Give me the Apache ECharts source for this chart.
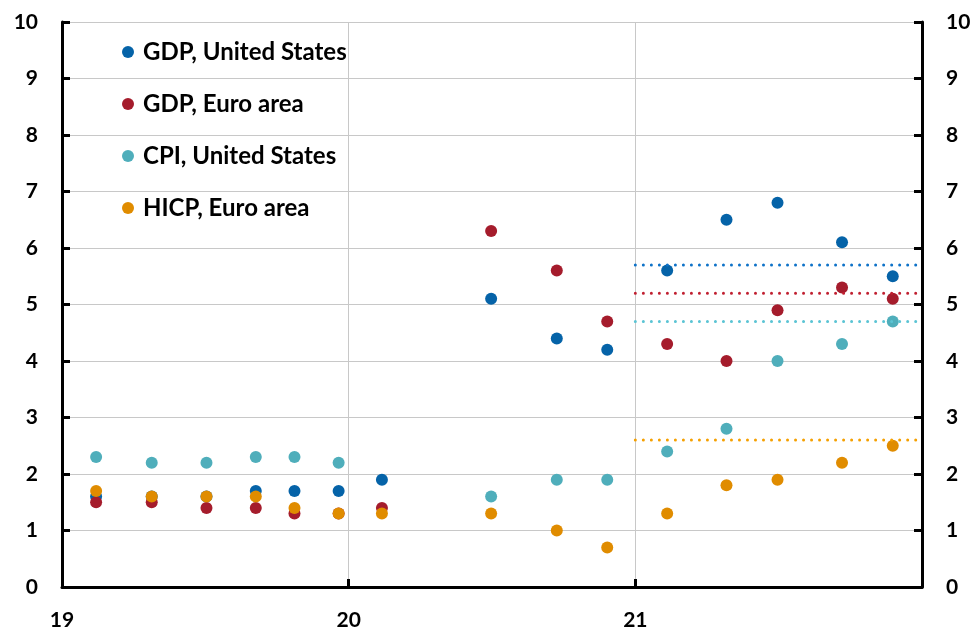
<!DOCTYPE html>
<html>
<head>
<meta charset="utf-8">
<script src="https://cdn.jsdelivr.net/npm/echarts@6/dist/echarts.min.js"></script>
<style>
html,body{margin:0;padding:0;background:#fff;}
#chart{width:979px;height:633px;}
</style>
</head>
<body>
<div id="chart"></div>
<script>
// Dates as fractional years (19 = 2019)
var dates = [19.119, 19.313, 19.504, 19.676, 19.811, 19.965, 20.116, 20.497, 20.726, 20.902, 21.111, 21.318, 21.496, 21.721, 21.898];
var gdpUS   = [1.6, 1.6, 1.6, 1.7, 1.7, 1.7, 1.9, 5.1, 4.4, 4.2, 5.6, 6.5, 6.8, 6.1, 5.5];
var gdpEA   = [1.5, 1.5, 1.4, 1.4, 1.3, 1.3, 1.4, 6.3, 5.6, 4.7, 4.3, 4.0, 4.9, 5.3, 5.1];
var cpiUS   = [2.3, 2.2, 2.2, 2.3, 2.3, 2.2, null, 1.6, 1.9, 1.9, 2.4, 2.8, 4.0, 4.3, 4.7];
var hicpEA  = [1.7, 1.6, 1.6, 1.6, 1.4, 1.3, 1.3, 1.3, 1.0, 0.7, 1.3, 1.8, 1.9, 2.2, 2.5];
// Horizontal reference levels (dotted), spanning 21 to 22
var refStart = 21, refEnd = 22;
var refUS = 5.7, refEA = 5.2, refCPI = 4.7, refHICP = 2.6;

var names = ['GDP, United States', 'GDP, Euro area', 'CPI, United States', 'HICP, Euro area'];
var markerColors = ['#0563A8', '#A51C2C', '#4FAEBB', '#E08C00'];
var dotColors = ['#0E72C8', '#C01F30', '#5BC4D4', '#F5A000'];

function pts(vals) {
  var out = [];
  for (var i = 0; i < dates.length; i++) {
    if (vals[i] !== null) out.push([dates[i], vals[i]]);
  }
  return out;
}
function ref(v) { return [[refStart, v], [refEnd, v]]; }

var FONT = 'Lato';
var series = [];
[gdpUS, gdpEA, cpiUS, hicpEA].forEach(function (vals, k) {
  series.push({
    name: names[k], type: 'scatter', data: pts(vals), symbol: 'circle', symbolSize: 12,
    itemStyle: { color: markerColors[k], opacity: 1 }, emphasis: { disabled: true }, z: 3
  });
});
[refUS, refEA, refCPI, refHICP].forEach(function (v, k) {
  series.push({
    name: 'ref' + k, type: 'line', data: ref(v), symbol: 'none', silent: true, z: 4,
    lineStyle: { color: dotColors[k], width: 3, type: [0.01, 8], cap: 'round' }
  });
});

var chart = echarts.init(document.getElementById('chart'), null, { renderer: 'canvas' });
chart.setOption({
  animation: false,
  backgroundColor: '#fff',
  grid: { left: 62, right: 57, top: 22, bottom: 46, containLabel: false },
  legend: {
    data: names.map(function (n, k) { return { name: n, itemStyle: { color: markerColors[k] } }; }),
    orient: 'vertical', left: 117, top: 35, icon: 'circle',
    itemWidth: 12, itemHeight: 12, itemGap: 28, selectedMode: false,
    textStyle: { fontFamily: FONT, fontWeight: 'bold', fontSize: 24, color: '#000', lineHeight: 24, padding: [0, 0, 0, 4] }
  },
  xAxis: {
    type: 'value', min: 19, max: 22, interval: 1,
    axisLine: { show: true, onZero: false, lineStyle: { color: '#000', width: 3 } },
    axisTick: { show: true, inside: true, length: 8, lineStyle: { color: '#000', width: 3 } },
    axisLabel: {
      margin: 23, fontFamily: FONT, fontWeight: 'bold', fontSize: 21, color: '#000',
      formatter: function (v) { return v >= 22 ? '' : String(v); }
    },
    splitLine: { show: true, lineStyle: { color: '#C8C8C8', width: 1 } }
  },
  yAxis: [
    {
      type: 'value', min: 0, max: 10, interval: 1, position: 'left',
      axisLine: { show: true, lineStyle: { color: '#000', width: 3 } },
      axisTick: { show: true, inside: true, length: 8, lineStyle: { color: '#000', width: 3 } },
      axisLabel: { margin: 24, fontFamily: FONT, fontWeight: 'bold', fontSize: 21, color: '#000' },
      splitLine: { show: true, lineStyle: { color: '#C8C8C8', width: 1 } }
    },
    {
      type: 'value', min: 0, max: 10, interval: 1, position: 'right',
      axisLine: { show: true, lineStyle: { color: '#000', width: 3 } },
      axisTick: { show: true, inside: true, length: 8, lineStyle: { color: '#000', width: 3 } },
      axisLabel: { margin: 24, fontFamily: FONT, fontWeight: 'bold', fontSize: 21, color: '#000' },
      splitLine: { show: false }
    }
  ],
  series: series
});
</script>
</body>
</html>
